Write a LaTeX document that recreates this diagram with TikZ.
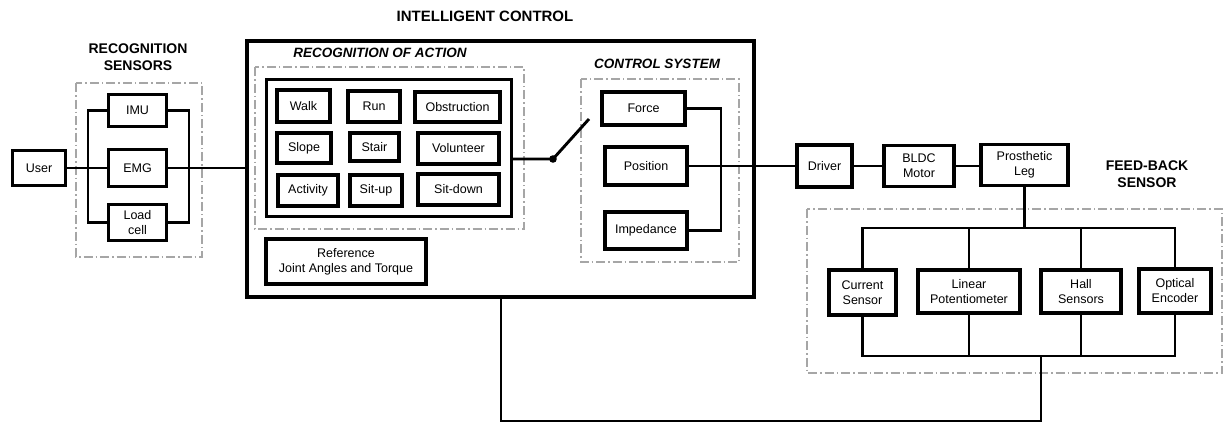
\documentclass[tikz,border=0pt]{standalone}
\usepackage{fontspec}
\setmainfont{Liberation Sans}
\begin{document}
\begin{tikzpicture}[x=1pt,y=-1pt,
  bx/.style={draw,line width=3.2pt,inner sep=0pt,align=center,font=\fontsize{12.5}{15}\selectfont},
  grp/.style={draw=black!35,line width=1.2pt,dash pattern=on 9pt off 3pt on 1.5pt off 3pt},
  wire/.style={line width=2.9pt},
  ttl/.style={font=\fontsize{14}{17}\selectfont\bfseries,align=center,inner sep=0pt},
  ittl/.style={font=\fontsize{13.5}{16}\selectfont\bfseries\itshape,align=center,inner sep=0pt},
  ]
\useasboundingbox (0,0) rectangle (1224,423);

% titles
\node[ttl,font=\fontsize{15}{18}\selectfont\bfseries] (t1) at (485,16) {INTELLIGENT CONTROL};
\node[ttl] (t2) at (138,57.5) {RECOGNITION\\SENSORS};
\node[ittl] (t3) at (380,53) {RECOGNITION OF ACTION};
\node[ittl] (t4) at (657,64) {CONTROL SYSTEM};
\node[ttl] (t5) at (1147,174.5) {FEED-BACK\\SENSOR};

% groups (dash-dot)
\draw[grp] (76,83) rectangle (202,257);
\draw[grp] (255,67) rectangle (524,229);
\draw[grp] (581,79) rectangle (739,262);
\draw[grp] (807,209) rectangle (1222,373);

% user and recognition sensors
\node[bx,minimum width=53pt,minimum height=35pt] (user) at (39,168) {User};
\node[bx,minimum width=58pt,minimum height=32pt] (imu) at (137.5,110.5) {IMU};
\node[bx,minimum width=58pt,minimum height=37pt] (emg) at (137.5,168) {EMG};
\node[bx,minimum width=58pt,minimum height=36pt] (load) at (137.5,222.5) {Load\\cell};

% intelligent control
\node[bx,line width=3.3pt,minimum width=507pt,minimum height=256pt] (ic) at (500.5,169) {};
\node[bx,minimum width=245pt,minimum height=137pt] (ra) at (389,148) {};
\node[bx,minimum width=53pt,minimum height=32pt] (walk) at (303.5,106) {Walk};
\node[bx,minimum width=52pt,minimum height=31pt] (run) at (374,106.5) {Run};
\node[bx,minimum width=85pt,minimum height=30pt] (obs) at (457.5,107) {Obstruction};
\node[bx,minimum width=54pt,minimum height=30pt] (slope) at (304,148) {Slope};
\node[bx,minimum width=49pt,minimum height=28pt] (stair) at (374.5,147) {Stair};
\node[bx,minimum width=81pt,minimum height=31pt] (vol) at (458.5,148.5) {Volunteer};
\node[bx,minimum width=60pt,minimum height=31pt] (act) at (308,190.5) {Activity};
\node[bx,minimum width=52pt,minimum height=31pt] (situp) at (376,190.5) {Sit-up};
\node[bx,minimum width=81pt,minimum height=31pt] (sitdown) at (458.5,189.5) {Sit-down};
\node[bx,minimum width=160pt,minimum height=45pt] (ref) at (346,261.5) {Reference\\Joint Angles and Torque};

\node[bx,minimum width=83pt,minimum height=33pt] (force) at (643.5,108.5) {Force};
\node[bx,minimum width=82pt,minimum height=38pt] (pos) at (646,166) {Position};
\node[bx,minimum width=82pt,minimum height=37pt] (imp) at (646,230.5) {Impedance};

% actuator chain
\node[bx,minimum width=55pt,minimum height=42pt] (drv) at (824.5,166) {Driver};
\node[bx,minimum width=70pt,minimum height=41pt] (bldc) at (919,166) {BLDC\\Motor};
\node[bx,minimum width=87pt,minimum height=41pt] (leg) at (1024.5,165) {Prosthetic\\Leg};

% feedback sensors
\node[bx,minimum width=67pt,minimum height=45pt] (cs) at (862.5,292.5) {Current\\Sensor};
\node[bx,minimum width=102pt,minimum height=43pt] (lp) at (969,291.5) {Linear\\Potentiometer};
\node[bx,minimum width=80pt,minimum height=43pt] (hs) at (1081,291.5) {Hall\\Sensors};
\node[bx,minimum width=72pt,minimum height=44pt] (oe) at (1175,291) {Optical\\Encoder};

% coordinates
\coordinate (lbus) at (88,0);
\coordinate (rbus) at (189,0);
\coordinate (sw) at (553,159);
\coordinate (swe) at (589,119);
\coordinate (cbus) at (721,0);
\coordinate (tb) at (0,228);
\coordinate (bb) at (0,356);
\coordinate (fb) at (1041,356);
\coordinate (fb1) at (1041,421);
\coordinate (fb2) at (501,421);

% connectors: sensors
\draw[wire] (user.east) -- (emg.west);
\draw[wire] (imu.west) -- (imu.west -| lbus) -- (load.west -| lbus) -- (load.west);
\draw[wire] (imu.east) -- (imu.east -| rbus) -- (load.east -| rbus) -- (load.east);
\draw[wire] (emg.east) -- (emg.east -| ic.west);

% switch
\draw[wire] (sw -| ra.east) -- (sw) -- (swe);
\fill (sw) circle (3.8pt);

% control system
\draw[wire] (force.east) -- (force.east -| cbus) -- (imp.east -| cbus) -- (imp.east);
\draw[wire] (pos.east) -- (drv.west);
\draw[wire] (drv.east) -- (bldc.west);
\draw[wire] (bldc.east) -- (bldc.east -| leg.west);

% feedback
\draw[wire] (leg.south) -- (leg.south |- tb);
\draw[wire] (cs.north) -- (cs.north |- tb) -- (oe.north |- tb) -- (oe.north);
\draw[wire] (lp.north) -- (lp.north |- tb);
\draw[wire] (hs.north) -- (hs.north |- tb);
\draw[wire] (cs.south) -- (cs.south |- bb) -- (oe.south |- bb) -- (oe.south);
\draw[wire] (lp.south) -- (lp.south |- bb);
\draw[wire] (hs.south) -- (hs.south |- bb);
\draw[wire] (fb) -- (fb1) -- (fb2) -- (fb2 |- ic.south);
\end{tikzpicture}
\end{document}
